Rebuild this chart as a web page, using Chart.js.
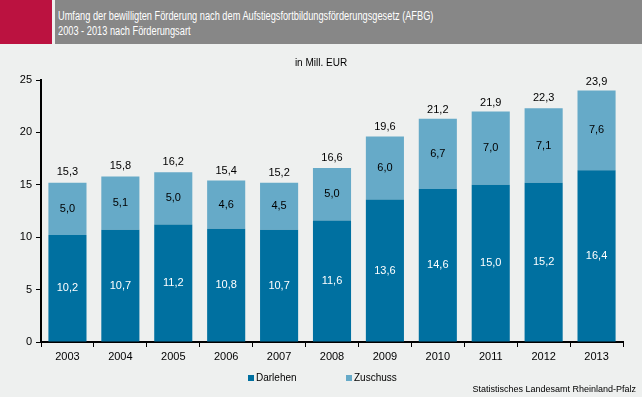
<!DOCTYPE html>
<html>
<head>
<meta charset="utf-8">
<script src="https://cdn.jsdelivr.net/npm/chart.js@4"></script>
<style>
  body { margin: 0; background: #eef0ef; font-family: "Liberation Sans", Arial, sans-serif; }
  #wrap { position: relative; width: 642px; height: 397px; overflow: hidden; }
  .red { position: absolute; left: 0; top: 0; width: 52px; height: 44px; background: #bb1240; }
  .head { position: absolute; left: 55px; top: 0; width: 587px; height: 44px; background: #878787; }
  .head div { position: absolute; left: 3px; top: 9px; color: #fff; font-size: 12px; line-height: 15px;
              white-space: nowrap; transform: scaleX(0.77); transform-origin: left top; }
  .unit { position: absolute; left: 0; width: 642px; top: 57px; text-align: center; font-size: 10px; color: #000; }
  canvas { position: absolute; left: 0; top: 0; }
  .legend { position: absolute; top: 372px; font-size: 10px; color: #000; }
  .legend span { display: inline-block; width: 6px; height: 6px; margin-right: 2px; }
  .src { position: absolute; right: 6px; top: 384px; font-size: 9px; color: #000; }
</style>
</head>
<body>
<div id="wrap">
  <canvas id="myChart" width="642" height="397"></canvas>
  <div class="red"></div>
  <div class="head"><div>Umfang der bewilligten Förderung nach dem Aufstiegsfortbildungsförderungsgesetz (AFBG)<br>2003 - 2013 nach Förderungsart</div></div>
  <div class="unit">in Mill. EUR</div>
  <div class="legend" style="left:248px"><span style="background:#0070a0"></span>Darlehen</div>
  <div class="legend" style="left:346px"><span style="background:#66aac8"></span>Zuschuss</div>
  <div class="src">Statistisches Landesamt Rheinland-Pfalz</div>
</div>
<script>
const years = ['2003', '2004', '2005', '2006', '2007', '2008', '2009', '2010', '2011', '2012', '2013']
const darlehen = [10.2, 10.7, 11.2, 10.8, 10.7, 11.6, 13.6, 14.6, 15.0, 15.2, 16.4]
const zuschuss = [5.0, 5.1, 5.0, 4.6, 4.5, 5.0, 6.0, 6.7, 7.0, 7.1, 7.6]
const totals = [15.3, 15.8, 16.2, 15.4, 15.2, 16.6, 19.6, 21.2, 21.9, 22.3, 23.9]
const yTicks = [0, 5, 10, 15, 20, 25]

const fmt = v => v.toFixed(1).replace('.', ',')
const font = '"Liberation Sans", Arial, sans-serif'

// values inside the segments and the sums above the bars
const barLabels = {
  id: 'barLabels',
  afterDatasetsDraw(chart) {
    const c = chart.ctx
    c.save()
    c.font = '11px ' + font
    c.textAlign = 'center'
    c.textBaseline = 'middle'
    chart.data.datasets.forEach((ds, i) => {
      chart.getDatasetMeta(i).data.forEach((bar, j) => {
        c.fillStyle = i == 0 ? '#ffffff' : '#000000'
        c.fillText(fmt(ds.data[j]), bar.x, (bar.y + bar.base) / 2)
      })
    })
    const top = chart.getDatasetMeta(1).data
    const y = chart.scales.y
    c.fillStyle = '#000'
    top.forEach((bar, j) => {
      c.fillText(fmt(totals[j]), bar.x, y.getPixelForValue(totals[j]) - 10)
    })
    c.restore()
  }
}

const ctx = document.getElementById('myChart')

new Chart(ctx, {
  type: 'bar',
  data: {
    labels: years,
    datasets: [
      { label: 'Darlehen', data: darlehen, backgroundColor: '#0070a0' },
      { label: 'Zuschuss', data: zuschuss, backgroundColor: '#66aac8' }
    ]
  },
  options: {
    responsive: false,
    animation: false,
    layout: { padding: { top: 80, right: 19, left: 0, bottom: 0 } },
    datasets: { bar: { barPercentage: 0.72, categoryPercentage: 1 } },
    plugins: { legend: { display: false }, tooltip: { enabled: false } },
    scales: {
      x: {
        stacked: true,
        afterFit: s => { s.height = 55 },
        border: { color: '#000', width: 2 },
        grid: { offset: true, drawOnChartArea: false, color: '#000', tickLength: 5, lineWidth: 1 },
        ticks: { color: '#000', font: { family: font, size: 11 }, padding: 3 }
      },
      y: {
        stacked: true,
        min: 0,
        max: 25,
        afterFit: s => { s.width = 41 },
        afterBuildTicks: s => { s.ticks = yTicks.map(v => ({ value: v })) },
        border: { color: '#000', width: 2 },
        grid: { drawOnChartArea: false, color: '#000', tickLength: 5 },
        ticks: { color: '#000', font: { family: font, size: 11 }, padding: 4 }
      }
    }
  },
  plugins: [barLabels]
})
</script>
</body>
</html>
